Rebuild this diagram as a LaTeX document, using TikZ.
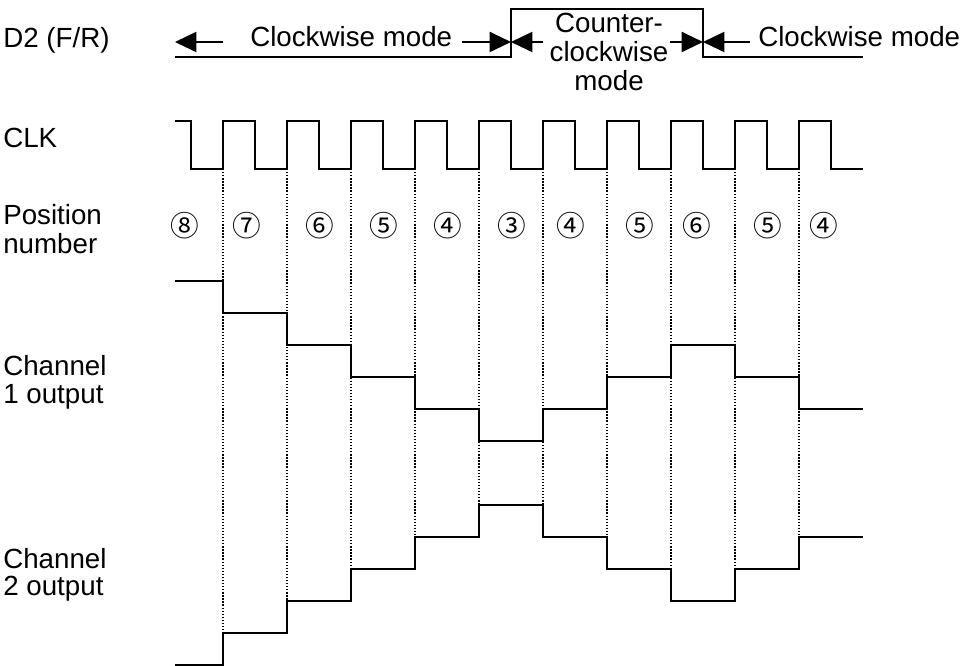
\documentclass[tikz,border=0pt]{standalone}
\usepackage{fontspec}
\setmainfont{Liberation Sans}
\newfontfamily\circfont{Noto Sans CJK JP}
\usetikzlibrary{arrows.meta}
\begin{document}
\begin{tikzpicture}[x=0.75pt,y=-0.75pt,
  sig/.style={line width=1.5pt, line join=miter},
  guide/.style={line width=1pt, dash pattern=on 1pt off 1.3pt},
  lbl/.style={anchor=base west, inner sep=0pt, font=\fontsize{20.8}{19.9}\selectfont},
  txt/.style={inner sep=0pt, font=\fontsize{20.8}{19.9}\selectfont},
  ccwtxt/.style={inner sep=0pt, font=\fontsize{20.8}{21.4}\selectfont},
  posnum/.style={inner sep=0pt, font=\circfont\fontsize{21.5}{21.5}\selectfont},
  modearrow/.style={line width=1.5pt, -{Triangle[length=16pt,width=15pt]}}]
\useasboundingbox (0,0) rectangle (967,666);

% left labels
\node[lbl] (d2) at (3,48) {D2 (F/R)};
\node[lbl] (clk) at (3,148) {CLK};
\node[lbl] (pos) at (3,225) {\begin{tabular}[t]{@{}l@{}}Position\\number\end{tabular}};
\node[lbl] (ch1) at (3,376) {\begin{tabular}[t]{@{}l@{}}Channel\\1 output\end{tabular}};
\node[lbl] (ch2) at (3,568) {\begin{tabular}[t]{@{}l@{}}Channel\\2 output\end{tabular}};

% D2 (F/R) signal
\draw[sig] (175,57) -- (511,57) -- (511,9) -- (703,9) -- (703,57) -- (863,57);

% mode texts
\node[txt, anchor=base west] (cw1) at (250,47) {Clockwise mode};
\node[txt, anchor=base west] (cw2) at (758,47) {Clockwise mode};
\node[ccwtxt, anchor=base] (ccw) at (609,33) {\begin{tabular}[t]{@{}c@{}}Counter-\\clockwise\\mode\end{tabular}};

% mode arrows
\coordinate (tipL) at (175,42);
\coordinate (tipA) at (511,42);
\coordinate (tipB) at (703,42);
\coordinate (tail1) at (223,42);
\coordinate (tail2) at (462,42);
\coordinate (tail3) at (543,42);
\coordinate (tail4) at (670,42);
\coordinate (tail5) at (750,42);
\draw[modearrow] (tail1) -- (tipL);
\draw[modearrow] (tail2) -- (tipA);
\draw[modearrow] (tail3) -- (tipA);
\draw[modearrow] (tail4) -- (tipB);
\draw[modearrow] (tail5) -- (tipB);

% dotted guides at CLK rising edges
\foreach \k/\yb in {0/633,1/601,2/569,3/537,4/505,5/505,6/537,7/569,8/569,9/537}{
  \draw[guide] ({223+64*\k},169) -- ({223+64*\k},\yb);
}

% CLK
\draw[sig] (175,121) -- (191,121) -- (191,169)
  \foreach \k in {0,...,9}{ -- ({223+64*\k},169) -- ({223+64*\k},121) -- ({255+64*\k},121) -- ({255+64*\k},169) }
  -- (863,169);

% position numbers
\foreach \xp/\n [count=\i] in {185/⑧,247/⑦,320/⑥,384/⑤,448/④,512/③,571/④,640/⑤,697/⑥,768/⑤,824/④}{
  \node[posnum] (p\i) at (\xp,226) {\n};
}

% Channel 1 output
\draw[sig] (175,281) -- (223,281) -- (223,313) -- (287,313) -- (287,345) -- (351,345) -- (351,377)
  -- (415,377) -- (415,409) -- (479,409) -- (479,441) -- (543,441) -- (543,409) -- (607,409)
  -- (607,377) -- (671,377) -- (671,345) -- (735,345) -- (735,377) -- (799,377) -- (799,409) -- (863,409);

% Channel 2 output
\draw[sig] (175,665) -- (223,665) -- (223,633) -- (287,633) -- (287,601) -- (351,601) -- (351,569)
  -- (415,569) -- (415,537) -- (479,537) -- (479,505) -- (543,505) -- (543,537) -- (607,537)
  -- (607,569) -- (671,569) -- (671,601) -- (735,601) -- (735,569) -- (799,569) -- (799,537) -- (863,537);
\end{tikzpicture}
\end{document}
